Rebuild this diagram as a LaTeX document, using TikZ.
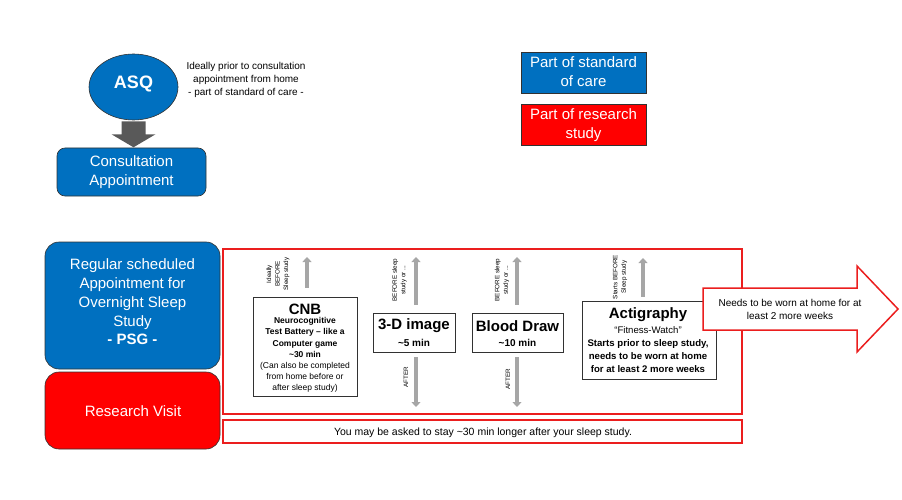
\documentclass[tikz,border=0pt]{standalone}
\usepackage{fontspec}
\setmainfont{Liberation Sans}
\usetikzlibrary{shapes.geometric,arrows.meta}
\definecolor{stdblue}{RGB}{0,112,192}
\definecolor{resred}{RGB}{255,0,0}
\definecolor{framered}{RGB}{235,30,30}
\definecolor{arrgray}{RGB}{166,166,166}
\definecolor{blockgray}{RGB}{89,89,89}
\definecolor{edgedark}{RGB}{50,50,50}
\begin{document}
\begin{tikzpicture}[x=1pt,y=-1pt,
  txt/.style={inner sep=0pt, align=center},
  bluebox/.style={draw=edgedark, fill=stdblue, line width=0.6pt, inner sep=0pt},
  redbox/.style={draw=edgedark, fill=resred, line width=0.6pt, inner sep=0pt},
  whitetxt/.style={txt, text=white, font=\fontsize{15}{19}\selectfont},
  taskbox/.style={draw=edgedark, line width=0.7pt, fill=white, inner sep=0pt},
  redframe/.style={draw=framered, line width=1.5pt, inner sep=0pt},
  garrow/.style={draw=arrgray, line width=4.5pt, -{Triangle[length=5pt,width=9pt]}},
  tiny/.style={txt, rotate=90, font=\fontsize{6.3}{8.5}\selectfont},
  small/.style={txt, font=\fontsize{10}{13}\selectfont},
  title/.style={txt, font=\fontsize{15}{15}\selectfont\bfseries}
]
\useasboundingbox (0,0) rectangle (902,500);

% ASQ and consultation
\node[ellipse, draw=edgedark, fill=stdblue, line width=0.6pt, minimum width=89pt, minimum height=66pt] (asq) at (133.5,87) {};
\node[txt, text=white, font=\fontsize{18}{18}\selectfont\bfseries] (asqt) at (133.5,83.5) {ASQ};
\node[small] (note) at (246,79.5) {Ideally prior to consultation\\appointment from home\\- part of standard of care -};
\fill[blockgray] ([xshift=-12pt,yshift=-1pt]asq.south) -- ++(24,0) -- ++(0,13) -- ++(10,0) -- ++(-22,13) -- ++(-22,-13) -- ++(10,0) -- cycle;
\node[bluebox, rounded corners=8pt, minimum width=149pt, minimum height=48pt] (consult) at (131.5,172) {};
\node[whitetxt] (consultt) at (131.5,172.5) {Consultation\\Appointment};

% Legend
\node[bluebox, minimum width=125pt, minimum height=41pt] (legstd) at (583.5,72.5) {};
\node[whitetxt] (legstdt) at (583.5,72) {Part of standard\\of care};
\node[redbox, minimum width=125pt, minimum height=41pt] (legres) at (583.5,124.5) {};
\node[whitetxt] (legrest) at (583.5,125) {Part of research\\study};

% Left column
\node[bluebox, rounded corners=14pt, minimum width=175pt, minimum height=127pt] (psg) at (132.5,305.5) {};
\node[whitetxt] (psgt) at (132.5,301.5) {Regular scheduled\\Appointment for\\Overnight Sleep\\Study\\[-1pt]{\bfseries - PSG -}};
\node[redbox, rounded corners=14pt, minimum width=175pt, minimum height=77pt] (rv) at (132.5,410.5) {};
\node[whitetxt] (rvt) at (133,411) {Research Visit};

% Frames
\node[redframe, minimum width=519pt, minimum height=165pt] (frame) at (482.5,331.5) {};
\node[redframe, minimum width=519pt, minimum height=23pt] (stay) at (482.5,431.5) {};
\node[txt, font=\fontsize{10.5}{12}\selectfont] (stayt) at (483,432.5) {You may be asked to stay \textasciitilde 30 min longer after your sleep study.};

% CNB
\node[taskbox, minimum width=104pt, minimum height=99pt] (cnb) at (305,346.5) {};
\node[title] (cnbt) at (305,309.5) {CNB};
\node[txt, font=\fontsize{8.5}{11.2}\selectfont] (cnbb) at (305,355) {\bfseries Neurocognitive\\\bfseries Test Battery -- like a\\\bfseries Computer game\\\bfseries \textasciitilde 30 min\\(Can also be completed\\from home before or\\after sleep study)};
\coordinate (cnbtip) at (307,257);
\draw[garrow] (cnb.north -| cnbtip) ++(0,-9) -- (cnbtip);
\node[tiny] (cnbl) at (278,274) {Ideally\\BEFORE\\Sleep study};

% 3-D image
\node[taskbox, minimum width=82pt, minimum height=39pt] (img) at (414,332.5) {};
\node[title] (imgt) at (414,326) {3-D image};
\node[txt, font=\fontsize{10}{12}\selectfont\bfseries] (imgm) at (414,342.5) {\textasciitilde 5 min};
\coordinate (imgup) at (416,257);
\coordinate (imgdn) at (416,407);
\draw[garrow] (img.south -| imgdn) ++(0,5) -- (imgdn);
\draw[garrow] (img.north -| imgup) ++(0,-8) -- (imgup);
\node[tiny] (imgl) at (399.5,280) {BEFORE sleep\\study or ...};
\node[tiny] (imga) at (406,377) {AFTER};

% Blood draw
\node[taskbox, minimum width=91pt, minimum height=39pt] (blood) at (517.5,332.5) {};
\node[title] (bloodt) at (517.5,326) {Blood Draw};
\node[txt, font=\fontsize{10}{12}\selectfont\bfseries] (bloodm) at (517.5,342.5) {\textasciitilde 10 min};
\coordinate (bloodup) at (517,257);
\coordinate (blooddn) at (517,407);
\draw[garrow] (blood.north -| bloodup) ++(0,-8) -- (bloodup);
\draw[garrow] (blood.south -| blooddn) ++(0,5) -- (blooddn);
\node[tiny] (bloodl) at (502,280) {BEFORE sleep\\study or ...};
\node[tiny] (blooda) at (508,379) {AFTER};

% Actigraphy
\node[taskbox, minimum width=134pt, minimum height=78pt] (act) at (649,340) {};
\node[title] (actt) at (648,314.5) {Actigraphy};
\node[txt, font=\fontsize{9.6}{13}\selectfont] (actb) at (648,350) {``Fitness-Watch''\\\bfseries Starts prior to sleep study,\\\bfseries needs to be worn at home\\\bfseries for at least 2 more weeks};
\coordinate (actup) at (643,258);
\draw[garrow] (act.north -| actup) ++(0,-4) -- (actup);
\node[tiny] (actl) at (620,277) {Starts BEFORE\\Sleep study};

% Big arrow
\draw[framered, line width=1.5pt, fill=white, line join=miter] (703,288) -- (857,288) -- (857,266) -- (898,309) -- (857,352) -- (857,330) -- (703,330) -- cycle;
\node[small, font=\fontsize{10}{12.5}\selectfont] (wear) at (790,309.5) {Needs to be worn at home for at\\least 2 more weeks};
\end{tikzpicture}
\end{document}
